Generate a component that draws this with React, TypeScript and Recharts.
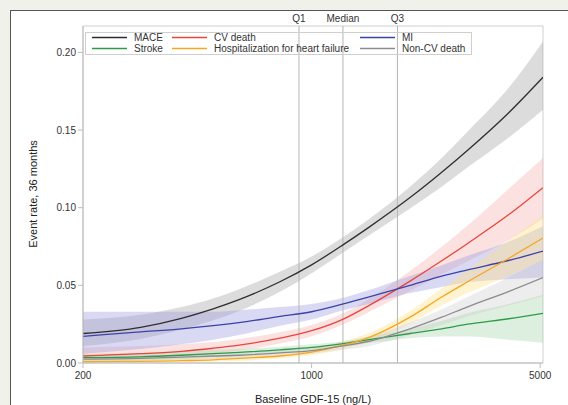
import {
  Area,
  ComposedChart,
  Legend,
  Line,
  ReferenceArea,
  ReferenceLine,
  XAxis,
  YAxis,
} from "recharts";

// GDF-15 sample points (ng/L), read along the log x axis
const gdf = [200, 300, 400, 500, 600, 800, 1000, 1250, 1500, 2000, 2500, 3000, 4000, 5100];

const mace = [0.019, 0.023, 0.0288, 0.0349, 0.0408, 0.0523, 0.0632, 0.0762, 0.0875, 0.1065, 0.1228, 0.137, 0.161, 0.184];
const maceLo = [0.011, 0.0155, 0.0215, 0.0275, 0.0335, 0.0458, 0.0578, 0.0712, 0.0822, 0.0995, 0.1135, 0.126, 0.145, 0.163];
const maceHi = [0.028, 0.031, 0.036, 0.0415, 0.0475, 0.0588, 0.0686, 0.0812, 0.0928, 0.1135, 0.132, 0.149, 0.177, 0.207];

const cvDeath = [0.0045, 0.006, 0.0075, 0.0095, 0.0115, 0.016, 0.0208, 0.0283, 0.0371, 0.0527, 0.0658, 0.077, 0.0954, 0.1129];
const cvDeathLo = [0.002, 0.003, 0.004, 0.006, 0.008, 0.0125, 0.0172, 0.0248, 0.0328, 0.0465, 0.057, 0.0655, 0.079, 0.093];
const cvDeathHi = [0.01, 0.011, 0.012, 0.0135, 0.0155, 0.0198, 0.0245, 0.032, 0.0414, 0.0592, 0.0748, 0.0885, 0.112, 0.132];

const mi = [0.0172, 0.02, 0.022, 0.024, 0.026, 0.03, 0.033, 0.038, 0.0425, 0.05, 0.056, 0.06, 0.066, 0.072];
const miLo = [0.006, 0.009, 0.012, 0.015, 0.018, 0.024, 0.028, 0.034, 0.038, 0.045, 0.049, 0.052, 0.054, 0.055];
const miHi = [0.033, 0.033, 0.033, 0.033, 0.034, 0.036, 0.038, 0.042, 0.047, 0.056, 0.063, 0.069, 0.078, 0.088];

const stroke = [0.0035, 0.004, 0.005, 0.006, 0.0068, 0.0085, 0.01, 0.0125, 0.015, 0.019, 0.022, 0.025, 0.0285, 0.032];
const strokeLo = [0.001, 0.0015, 0.0025, 0.0035, 0.0045, 0.0065, 0.0085, 0.011, 0.013, 0.016, 0.017, 0.017, 0.015, 0.013];
const strokeHi = [0.006, 0.0065, 0.0075, 0.0085, 0.009, 0.0105, 0.012, 0.014, 0.017, 0.022, 0.027, 0.032, 0.038, 0.044];

const hhf = [0.0008, 0.001, 0.0015, 0.002, 0.003, 0.0045, 0.007, 0.0115, 0.0165, 0.0295, 0.0425, 0.0523, 0.0673, 0.0805];
const hhfLo = [0, 0, 0.0005, 0.001, 0.0015, 0.003, 0.005, 0.009, 0.0135, 0.0255, 0.037, 0.045, 0.056, 0.066];
const hhfHi = [0.002, 0.0025, 0.003, 0.0035, 0.0045, 0.006, 0.009, 0.014, 0.0195, 0.0335, 0.048, 0.06, 0.079, 0.095];

const nonCv = [0.0025, 0.003, 0.0038, 0.0045, 0.005, 0.0065, 0.008, 0.011, 0.014, 0.022, 0.0295, 0.0362, 0.046, 0.055];
const nonCvLo = [0.001, 0.0015, 0.002, 0.0025, 0.003, 0.0045, 0.006, 0.0085, 0.011, 0.018, 0.0245, 0.03, 0.037, 0.043];
const nonCvHi = [0.005, 0.005, 0.0055, 0.006, 0.007, 0.0085, 0.0105, 0.0135, 0.017, 0.026, 0.0345, 0.0425, 0.055, 0.067];

const quartiles = [
  { label: "Q1", value: 915 },
  { label: "Median", value: 1247 },
  { label: "Q3", value: 1830 },
];

const xTicks = [200, 1000, 5000];
const yTicks = [0, 0.05, 0.1, 0.15, 0.2];

const series = [
  { key: "mace", name: "MACE", color: "#2e2e2e", band: "#9a9a9a", bandOpacity: 0.35, values: mace, lo: maceLo, hi: maceHi },
  { key: "cvDeath", name: "CV death", color: "#e8453c", band: "#f59a9a", bandOpacity: 0.3, values: cvDeath, lo: cvDeathLo, hi: cvDeathHi },
  { key: "mi", name: "MI", color: "#3c42a8", band: "#9a9ae0", bandOpacity: 0.38, values: mi, lo: miLo, hi: miHi },
  { key: "stroke", name: "Stroke", color: "#2f9a4a", band: "#9fd4a2", bandOpacity: 0.35, values: stroke, lo: strokeLo, hi: strokeHi },
  { key: "hhf", name: "Hospitalization for heart failure", color: "#f6a623", band: "#ffe08a", bandOpacity: 0.4, values: hhf, lo: hhfLo, hi: hhfHi },
  { key: "nonCv", name: "Non-CV death", color: "#8c8c8c", band: "#c4c4c4", bandOpacity: 0.3, values: nonCv, lo: nonCvLo, hi: nonCvHi },
];

// legend order: two rows, three columns
const legendRows = [
  ["mace", "cvDeath", "mi"],
  ["stroke", "hhf", "nonCv"],
];
const legendCols = [7, 87, 275];

const data = gdf.map((g, i) => {
  const row: Record<string, number | number[]> = { gdf: g };
  for (const s of series) {
    row[s.key] = s.values[i];
    row[s.key + "Band"] = [s.lo[i], s.hi[i]];
  }
  return row;
});

const font = "'Liberation Sans', Arial, sans-serif";

function LegendBox() {
  return (
    <svg width={387} height={23} style={{ display: "block", overflow: "visible" }}>
      <rect x={0.5} y={0.5} width={386} height={22} fill="none" stroke="#cfcfcf" />
      {legendRows.map((row, r) =>
        row.map((key, c) => {
          const s = series.find((x) => x.key === key)!;
          const y = r === 0 ? 5.5 : 16.5;
          return (
            <g key={key}>
              <line
                x1={legendCols[c]}
                x2={legendCols[c] + 35}
                y1={y}
                y2={y}
                stroke={s.color}
                strokeWidth={1.3}
              />
              <text
                x={legendCols[c] + 42}
                y={y + 3.5}
                fontSize={10}
                fill="#333"
                fontFamily={font}
              >
                {s.name}
              </text>
            </g>
          );
        })
      )}
    </svg>
  );
}

export default function App() {
  return (
    <div
      style={{
        position: "absolute",
        left: 0,
        top: 0,
        width: 568,
        height: 405,
        overflow: "hidden",
        background: "#f1f1ec",
      }}
    >
      <div
        style={{
          position: "absolute",
          left: 10,
          top: 10,
          width: 600,
          height: 450,
          background: "#fff",
          borderLeft: "1.5px solid #555",
          borderTop: "1.5px solid #555",
        }}
      />
      <div style={{ position: "absolute", left: 0, top: 0 }}>
        <ComposedChart
          width={568}
          height={405}
          data={data}
          margin={{ top: 26, right: 25, bottom: 0, left: 23 }}
        >
          <XAxis
            dataKey="gdf"
            type="number"
            scale="log"
            domain={[200, 5100]}
            allowDataOverflow
            ticks={xTicks}
            height={42}
            tick={{ fontSize: 10, fill: "#333", fontFamily: font }}
            tickLine={{ stroke: "#bdbdbd" }}
            axisLine={{ stroke: "#bdbdbd" }}
            tickSize={5}
            tickMargin={4}
            label={{
              value: "Baseline GDF-15 (ng/L)",
              position: "insideBottom",
              offset: 2,
              fontSize: 11,
              fill: "#222",
              fontFamily: font,
            }}
          />
          <YAxis
            type="number"
            domain={[0, 0.217]}
            allowDataOverflow
            ticks={yTicks}
            width={60}
            tickFormatter={(v: number) => v.toFixed(2)}
            tick={{ fontSize: 10, fill: "#333", fontFamily: font }}
            tickLine={{ stroke: "#bdbdbd" }}
            axisLine={{ stroke: "#bdbdbd" }}
            tickSize={5}
            tickMargin={2}
            label={{
              content: () => (
                <text
                  x={37}
                  y={194}
                  transform="rotate(-90 37 194)"
                  textAnchor="middle"
                  fontSize={11}
                  fill="#222"
                  fontFamily={font}
                >
                  Event rate, 36 months
                </text>
              ),
            }}
          />
          <ReferenceArea
            x1={200}
            x2={5100}
            y1={0}
            y2={0.217}
            fill="none"
            stroke="#cfcfcf"
            strokeWidth={1}
          />
          {series.map((s) => (
            <Area
              key={s.key + "Band"}
              dataKey={s.key + "Band"}
              type="monotone"
              stroke="none"
              fill={s.band}
              fillOpacity={s.bandOpacity}
              isAnimationActive={false}
              activeDot={false}
            />
          ))}
          {quartiles.map((q) => (
            <ReferenceLine
              key={q.label}
              x={q.value}
              stroke="#b5b5b5"
              strokeWidth={1}
              label={{
                value: q.label,
                position: "top",
                offset: 4,
                fontSize: 10,
                fill: "#333",
                fontFamily: font,
              }}
            />
          ))}
          {series.map((s) => (
            <Line
              key={s.key}
              dataKey={s.key}
              name={s.name}
              type="monotone"
              stroke={s.color}
              strokeWidth={1.3}
              dot={false}
              activeDot={false}
              isAnimationActive={false}
            />
          ))}
          <Legend
            layout="horizontal"
            align="center"
            verticalAlign="middle"
            wrapperStyle={{ top: 32, left: 85, width: 387, height: 23 }}
            content={() => <LegendBox />}
          />
        </ComposedChart>
      </div>
    </div>
  );
}
